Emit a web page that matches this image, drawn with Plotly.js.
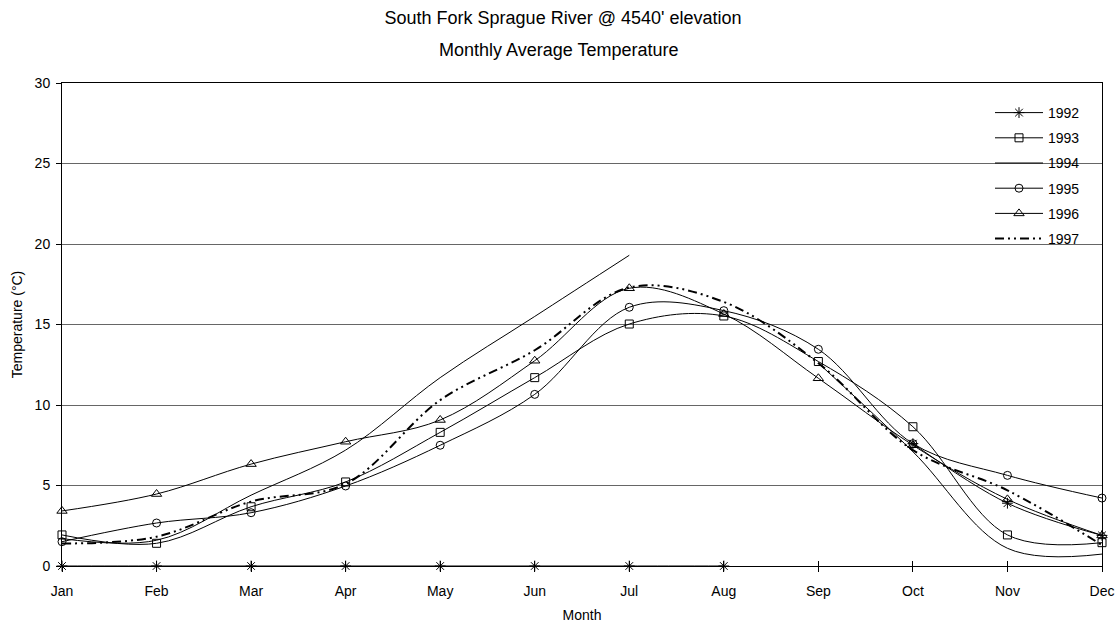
<!DOCTYPE html>
<html>
<head>
<meta charset="utf-8">
<script src="https://cdn.plot.ly/plotly-3.0.1.min.js"></script>
<style>html,body{margin:0;padding:0;background:#fff;}#chart{width:1118px;height:627px;}</style>
</head>
<body>
<div id="chart"></div>
<script>
const months = ["Jan","Feb","Mar","Apr","May","Jun","Jul","Aug","Sep","Oct","Nov","Dec"];
const t1992 = [0,0,0,0,0,0,0,0,null,7.6,3.9,1.9];
const t1993 = [1.93,1.41,3.68,5.22,8.3,11.7,15.03,15.53,12.7,8.65,1.93,1.45];
const t1994 = [1.7,1.6,4.4,7.2,11.7,15.5,19.3,null,12.6,7.1,1.1,0.74];
const t1995 = [1.51,2.67,3.31,4.97,7.5,10.66,16.07,15.86,13.46,7.6,5.63,4.22];
const t1996 = [3.42,4.47,6.33,7.72,9.07,12.75,17.25,15.65,11.66,7.5,4.14,1.9];
const t1997 = [1.4,1.82,4.0,5.1,10.3,13.4,17.3,16.4,12.6,7.2,4.7,1.3];

const FONT = '"Liberation Sans", Arial, sans-serif';
const xs = months.map((m,i)=>i);

function tr(name, y, symbol, size, lineExtra) {
  const t = {
    name: name, x: xs, y: y, type: 'scatter',
    mode: symbol ? 'lines+markers' : 'lines',
    line: Object.assign({color: '#000', width: 1, shape: 'spline', smoothing: 1}, lineExtra || {}),
    connectgaps: false, cliponaxis: false,
    legendgroup: name
  };
  if (symbol) t.marker = {symbol: symbol, size: size || 8, color: '#000', line: {color: '#000', width: 1}};
  return t;
}

const data = [
  tr('1992', t1992, 'asterisk-open', 9),
  tr('1993', t1993, 'square-open', 8),
  tr('1994', t1994, null),
  tr('1995', t1995, 'circle-open', 8),
  tr('1996', t1996, 'triangle-up-open', 9),
  tr('1997', t1997, null, 0, {width: 2, dash: '9px,4px,2px,4px,2px,4px'}),
  {x:[0], y:[null], xaxis:'x2', type:'scatter', mode:'lines', showlegend:false, hoverinfo:'skip'}
];

const layout = {
  width: 1118, height: 627,
  paper_bgcolor: '#fff', plot_bgcolor: '#fff',
  margin: {l: 62, r: 16, t: 83, b: 61},
  font: {family: FONT, size: 14, color: '#000'},
  showlegend: true,
  title: {
    text: "South Fork Sprague River @ 4540' elevation",
    font: {family: FONT, size: 18, color: '#000'},
    x: 563/1118, xref: 'container', xanchor: 'center',
    y: 1 - 18/627, yref: 'container', yanchor: 'middle'
  },
  annotations: [{
    text: 'Monthly Average Temperature', showarrow: false,
    xref: 'paper', yref: 'paper', x: (558-62)/1040, y: (566-50)/483,
    xanchor: 'center', yanchor: 'middle',
    font: {family: FONT, size: 18, color: '#000'}
  }],
  xaxis: {
    range: [0, 11], tickvals: xs, ticktext: months,
    showline: true, linecolor: '#000', linewidth: 1, mirror: true,
    ticks: 'outside', ticklen: 5, tickcolor: '#000', tickwidth: 1,
    ticklabelstandoff: 7,
    showgrid: false, zeroline: false,
    tickfont: {family: FONT, size: 14, color: '#000'},
    title: {text: 'Month', font: {family: FONT, size: 14, color: '#000'}, standoff: 12}
  },
  xaxis2: {
    range: [0, 11], tickvals: xs, overlaying: 'x', side: 'bottom',
    showticklabels: false, ticks: 'inside', ticklen: 5, tickcolor: '#000',
    showline: false, showgrid: false, zeroline: false
  },
  yaxis: {
    range: [0, 30], dtick: 5, tick0: 0,
    showline: true, linecolor: '#000', linewidth: 1, mirror: true,
    ticks: 'outside', ticklen: 5, tickcolor: '#000',
    ticklabelstandoff: 3,
    showgrid: true, gridcolor: '#666', gridwidth: 1, zeroline: false,
    tickfont: {family: FONT, size: 14, color: '#000'},
    title: {text: 'Temperature (°C)', font: {family: FONT, size: 14, color: '#000'}, standoff: 8}
  },
  legend: {
    x: (990-62)/1040, y: (566-97)/483, xanchor: 'left', yanchor: 'top',
    bgcolor: 'rgba(0,0,0,0)', borderwidth: 0,
    font: {family: FONT, size: 14, color: '#000'},
    traceorder: 'grouped', tracegroupgap: 4, itemwidth: 48
  }
};

Plotly.newPlot('chart', data, layout, {displayModeBar: false, staticPlot: true});
</script>
</body>
</html>
